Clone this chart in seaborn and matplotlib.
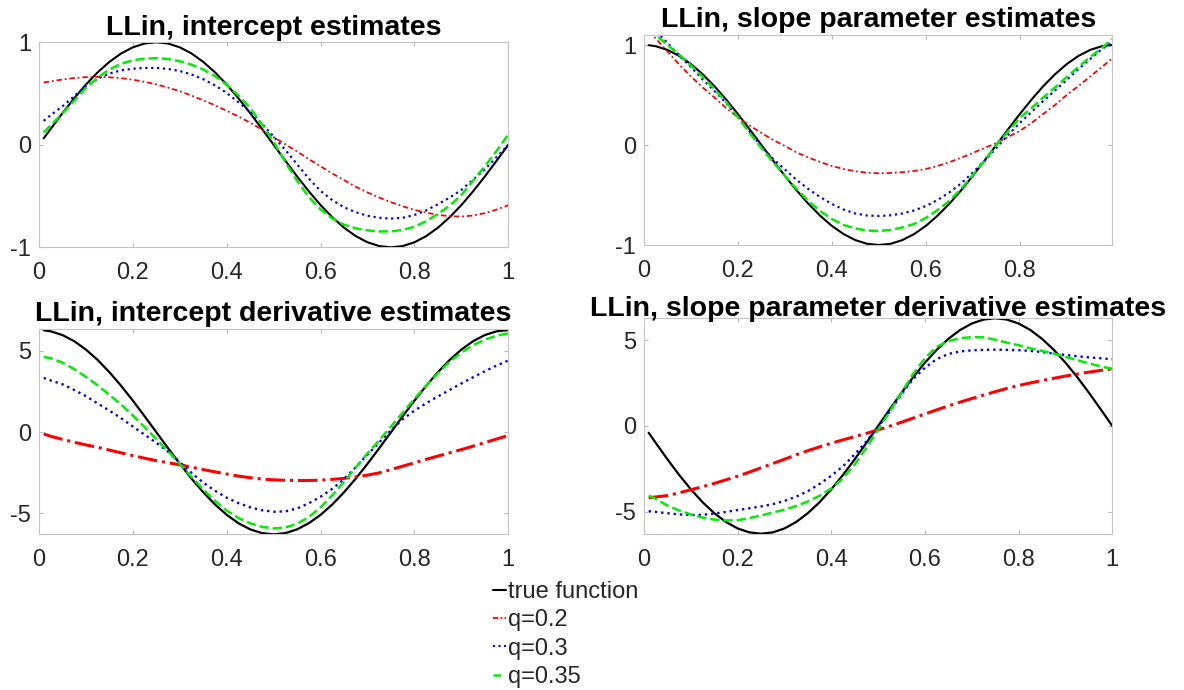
import pandas as pd
import seaborn as sns
import matplotlib
matplotlib.use("Agg")
import matplotlib.pyplot as plt
from matplotlib.lines import Line2D

# sample positions
x = [0.01, 0.025, 0.05, 0.075, 0.1, 0.125, 0.15, 0.175, 0.2, 0.225, 0.25,
     0.275, 0.3, 0.325, 0.35, 0.375, 0.4, 0.425, 0.45, 0.475, 0.5,
     0.525, 0.55, 0.575, 0.6, 0.625, 0.65, 0.675, 0.7, 0.725, 0.75,
     0.775, 0.8, 0.825, 0.85, 0.875, 0.9, 0.925, 0.95, 0.975, 1.0]
x_tr = x[:-1] + [0.997]

# top left: intercept estimates
tl_true = [0.063, 0.156, 0.309, 0.454, 0.588, 0.707, 0.809, 0.891, 0.951, 0.988, 1.0,
           0.988, 0.951, 0.891, 0.809, 0.707, 0.588, 0.454, 0.309, 0.156, 0.0,
           -0.156, -0.309, -0.454, -0.588, -0.707, -0.809, -0.891, -0.951, -0.988, -1.0,
           -0.988, -0.951, -0.891, -0.809, -0.707, -0.588, -0.454, -0.309, -0.156, 0.0]
tl_q20 = [0.608, 0.619, 0.637, 0.651, 0.660, 0.663, 0.659, 0.650, 0.635, 0.614, 0.590,
          0.558, 0.522, 0.480, 0.434, 0.385, 0.332, 0.276, 0.215, 0.150, 0.075,
          0.005, -0.065, -0.14, -0.21, -0.28, -0.345, -0.41, -0.465, -0.515, -0.56,
          -0.60, -0.635, -0.662, -0.683, -0.697, -0.700, -0.690, -0.667, -0.632, -0.59]
tl_q30 = [0.234, 0.29, 0.375, 0.475, 0.57, 0.645, 0.695, 0.727, 0.742, 0.750, 0.750,
          0.740, 0.720, 0.686, 0.640, 0.580, 0.505, 0.415, 0.320, 0.205, 0.080,
          -0.05, -0.19, -0.33, -0.45, -0.54, -0.61, -0.658, -0.692, -0.712, -0.72,
          -0.712, -0.685, -0.64, -0.58, -0.515, -0.44, -0.34, -0.24, -0.12, 0.0]
tl_q35 = [0.12, 0.19, 0.305, 0.43, 0.555, 0.655, 0.735, 0.79, 0.825, 0.840, 0.845,
          0.837, 0.815, 0.782, 0.735, 0.670, 0.585, 0.48, 0.36, 0.20, 0.03,
          -0.17, -0.35, -0.51, -0.63, -0.72, -0.78, -0.815, -0.835, -0.845, -0.845,
          -0.83, -0.80, -0.745, -0.675, -0.595, -0.49, -0.35, -0.21, -0.06, 0.10]

# top right: slope parameter estimates
tr_true = [0.998, 0.988, 0.951, 0.891, 0.809, 0.707, 0.588, 0.454, 0.309, 0.156, 0.0,
           -0.156, -0.309, -0.454, -0.588, -0.707, -0.809, -0.891, -0.951, -0.988, -1.0,
           -0.988, -0.951, -0.891, -0.809, -0.707, -0.588, -0.454, -0.309, -0.156, 0.0,
           0.156, 0.309, 0.454, 0.588, 0.707, 0.809, 0.891, 0.951, 0.988, 1.0]
tr_q20 = [1.14, 1.065, 0.935, 0.805, 0.685, 0.575, 0.475, 0.37, 0.277, 0.195, 0.12,
          0.05, -0.01, -0.075, -0.125, -0.17, -0.21, -0.24, -0.263, -0.277, -0.283,
          -0.28, -0.272, -0.26, -0.24, -0.21, -0.172, -0.128, -0.08, -0.03, 0.02,
          0.08, 0.14, 0.22, 0.31, 0.40, 0.50, 0.59, 0.685, 0.78, 0.867]
tr_q30 = [1.22, 1.14, 1.02, 0.895, 0.78, 0.655, 0.54, 0.42, 0.277, 0.135, -0.015,
          -0.14, -0.245, -0.35, -0.44, -0.52, -0.59, -0.645, -0.685, -0.705, -0.71,
          -0.703, -0.685, -0.655, -0.61, -0.55, -0.475, -0.385, -0.275, -0.16, -0.03,
          0.10, 0.22, 0.33, 0.44, 0.545, 0.65, 0.76, 0.86, 0.96, 1.03]
tr_q35 = [1.17, 1.10, 1.00, 0.905, 0.795, 0.68, 0.56, 0.43, 0.277, 0.12, -0.03,
          -0.17, -0.31, -0.44, -0.56, -0.66, -0.74, -0.80, -0.835, -0.855, -0.86,
          -0.85, -0.825, -0.79, -0.73, -0.65, -0.56, -0.44, -0.30, -0.16, 0.0,
          0.135, 0.27, 0.37, 0.475, 0.575, 0.68, 0.78, 0.88, 0.97, 1.06]

# bottom left: intercept derivative estimates
bl_true = [6.271, 6.206, 5.976, 5.598, 5.083, 4.443, 3.693, 2.853, 1.942, 0.983, 0.0,
           -0.983, -1.942, -2.853, -3.693, -4.443, -5.083, -5.598, -5.976, -6.206, -6.283,
           -6.206, -5.976, -5.598, -5.083, -4.443, -3.693, -2.853, -1.942, -0.983, 0.0,
           0.983, 1.942, 2.853, 3.693, 4.443, 5.083, 5.598, 5.976, 6.206, 6.283]
bl_q20 = [-0.10, -0.25, -0.44, -0.62, -0.78, -0.93, -1.10, -1.27, -1.44, -1.60, -1.75,
          -1.88, -2.00, -2.15, -2.30, -2.44, -2.57, -2.70, -2.80, -2.88, -2.93,
          -2.955, -2.97, -2.97, -2.95, -2.90, -2.84, -2.75, -2.64, -2.50, -2.30,
          -2.09, -1.88, -1.67, -1.47, -1.27, -1.07, -0.86, -0.64, -0.42, -0.20]
bl_q30 = [3.34, 3.18, 2.95, 2.60, 2.22, 1.77, 1.33, 0.86, 0.35, -0.15, -0.65,
          -1.2, -1.85, -2.50, -3.10, -3.60, -4.03, -4.36, -4.62, -4.80, -4.89,
          -4.87, -4.69, -4.37, -3.97, -3.48, -2.88, -2.15, -1.38, -0.62, 0.12,
          0.80, 1.33, 1.78, 2.20, 2.60, 3.0, 3.38, 3.75, 4.10, 4.41]
bl_q35 = [4.63, 4.55, 4.28, 3.88, 3.40, 2.88, 2.30, 1.70, 1.03, 0.32, -0.42,
          -1.17, -1.95, -2.75, -3.52, -4.22, -4.82, -5.28, -5.60, -5.82, -5.92,
          -5.86, -5.63, -5.22, -4.62, -3.88, -3.05, -2.17, -1.30, -0.50, 0.35,
          1.20, 2.05, 2.86, 3.62, 4.33, 4.90, 5.35, 5.70, 5.93, 6.09]

# bottom right: slope parameter derivative estimates
br_true = [-0.395, -0.983, -1.942, -2.853, -3.693, -4.443, -5.083, -5.598, -5.976, -6.206, -6.283,
           -6.206, -5.976, -5.598, -5.083, -4.443, -3.693, -2.853, -1.942, -0.983, 0.0,
           0.983, 1.942, 2.853, 3.693, 4.443, 5.083, 5.598, 5.976, 6.206, 6.283,
           6.206, 5.976, 5.598, 5.083, 4.443, 3.693, 2.853, 1.942, 0.983, 0.0]
br_q20 = [-4.19, -4.14, -4.06, -3.90, -3.72, -3.54, -3.35, -3.14, -2.93, -2.69, -2.44,
          -2.19, -1.94, -1.68, -1.44, -1.22, -1.01, -0.81, -0.62, -0.43, -0.23,
          -0.01, 0.22, 0.46, 0.70, 0.94, 1.17, 1.39, 1.60, 1.80, 2.00,
          2.19, 2.36, 2.51, 2.65, 2.78, 2.91, 3.03, 3.14, 3.24, 3.33]
br_q30 = [-4.97, -5.01, -5.09, -5.16, -5.19, -5.18, -5.11, -5.01, -4.90, -4.80, -4.69,
          -4.56, -4.37, -4.12, -3.80, -3.38, -2.90, -2.35, -1.65, -0.90, -0.05,
          0.85, 1.85, 2.75, 3.40, 3.90, 4.20, 4.35, 4.41, 4.44, 4.45,
          4.44, 4.42, 4.38, 4.31, 4.22, 4.14, 4.07, 4.00, 3.95, 3.89]
br_q35 = [-4.06, -4.25, -4.64, -4.93, -5.16, -5.34, -5.46, -5.51, -5.50, -5.37, -5.22,
          -5.05, -4.88, -4.67, -4.40, -4.07, -3.65, -3.05, -2.25, -1.28, -0.22,
          0.85, 1.95, 3.05, 3.95, 4.62, 4.95, 5.12, 5.18, 5.17, 5.03,
          4.86, 4.71, 4.53, 4.38, 4.22, 4.03, 3.84, 3.65, 3.48, 3.33]

labels = ["true function", "q=0.2", "q=0.3", "q=0.35"]
titles = ["LLin, intercept estimates", "LLin, slope parameter estimates",
          "LLin, intercept derivative estimates", "LLin, slope parameter derivative estimates"]

sns.set_theme(style="white")
plt.rcParams['font.family'] = ['Liberation Sans', 'DejaVu Sans']

W, H = 1184, 690
fig = plt.figure(figsize=(W / 100, H / 100), dpi=100)

def px_axes(left, top, right, bottom):
    return fig.add_axes([left / W, 1 - bottom / H, (right - left) / W, (bottom - top) / H])

axes = [px_axes(39, 42.3, 508.3, 247.3), px_axes(644, 35, 1112.3, 245),
        px_axes(39, 329.3, 508.3, 534.3), px_axes(644, 318.3, 1112.3, 534)]

panels = [
    (x, [tl_true, tl_q20, tl_q30, tl_q35], (0, 1), (-1, 1), [-1, 0, 1], [0, 0.2, 0.4, 0.6, 0.8, 1]),
    (x_tr, [tr_true, tr_q20, tr_q30, tr_q35], (0, 0.997), (-1, 1.1), [-1, 0, 1], [0, 0.2, 0.4, 0.6, 0.8]),
    (x, [bl_true, bl_q20, bl_q30, bl_q35], (0, 1), (-6.28, 6.33), [-5, 0, 5], [0, 0.2, 0.4, 0.6, 0.8, 1]),
    (x, [br_true, br_q20, br_q30, br_q35], (0, 1), (-6.3, 6.28), [-5, 0, 5], [0, 0.2, 0.4, 0.6, 0.8, 1]),
]

colors = ["black", "#ff0000", "#0000ff", "#00ee00"]
top_styles = ["-", (0, (3, 1.6, 1, 1.6)), ":", "--"]
bot_styles = ["-", "-.", ":", "--"]
title_pads = [5.5, 6, 6, 1.5]

for i, (ax, (xx, series, xl, yl, yt, xt)) in enumerate(zip(axes, panels)):
    top = i < 2
    widths = [1.5, 1.3, 1.6, 1.8] if top else [1.6, 2.2, 1.7, 1.8]
    styles = top_styles if top else bot_styles
    for s, c, ls, lw, lab in zip(series, colors, styles, widths, labels):
        df = pd.DataFrame({"x": xx, "y": s})
        sns.lineplot(data=df, x="x", y="y", ax=ax, color=c, linestyle=ls, lw=lw,
                     label=lab, legend=False, estimator=None, sort=False)
    ax.set_xlim(*xl)
    ax.set_ylim(*yl)
    ax.set_xticks(xt)
    ax.set_xticklabels([f"{v:g}" for v in xt])
    ax.set_yticks(yt)
    ax.set_yticklabels([f"{v:g}" for v in yt])
    ax.set_xlabel("")
    ax.set_ylabel("")
    ax.tick_params(direction="in", length=3, width=0.8, color="#b8b8b8",
                   labelsize=17, labelcolor="#262626", top=True, right=True,
                   bottom=True, left=True)
    ax.tick_params(axis="x", pad=10.5)
    ax.tick_params(axis="y", pad=5.5)
    for sp in ax.spines.values():
        sp.set_color("#c4c4c4")
        sp.set_linewidth(0.8)
    ax.set_title(titles[i], fontsize=20.5, fontweight="bold", color="black",
                 pad=title_pads[i])

# legend keys drawn short, as in the reference
handles = [Line2D([], [], color=colors[0], lw=1.5, linestyle="-"),
           Line2D([], [], color=colors[1], lw=1.3, linestyle=(0, (3, 1.2, 1, 1.2))),
           Line2D([], [], color=colors[2], lw=1.5, linestyle=":"),
           Line2D([], [], color=colors[3], lw=1.8, linestyle=(0, (3, 3)))]
fig.legend(handles, labels, loc="upper left", bbox_to_anchor=(493 / W, 1 - 581 / H),
           frameon=False, fontsize=17, handlelength=0.55, handletextpad=0.1,
           labelspacing=0.27, borderpad=0, borderaxespad=0)

fig.savefig("out.png", dpi=100, facecolor="white")
